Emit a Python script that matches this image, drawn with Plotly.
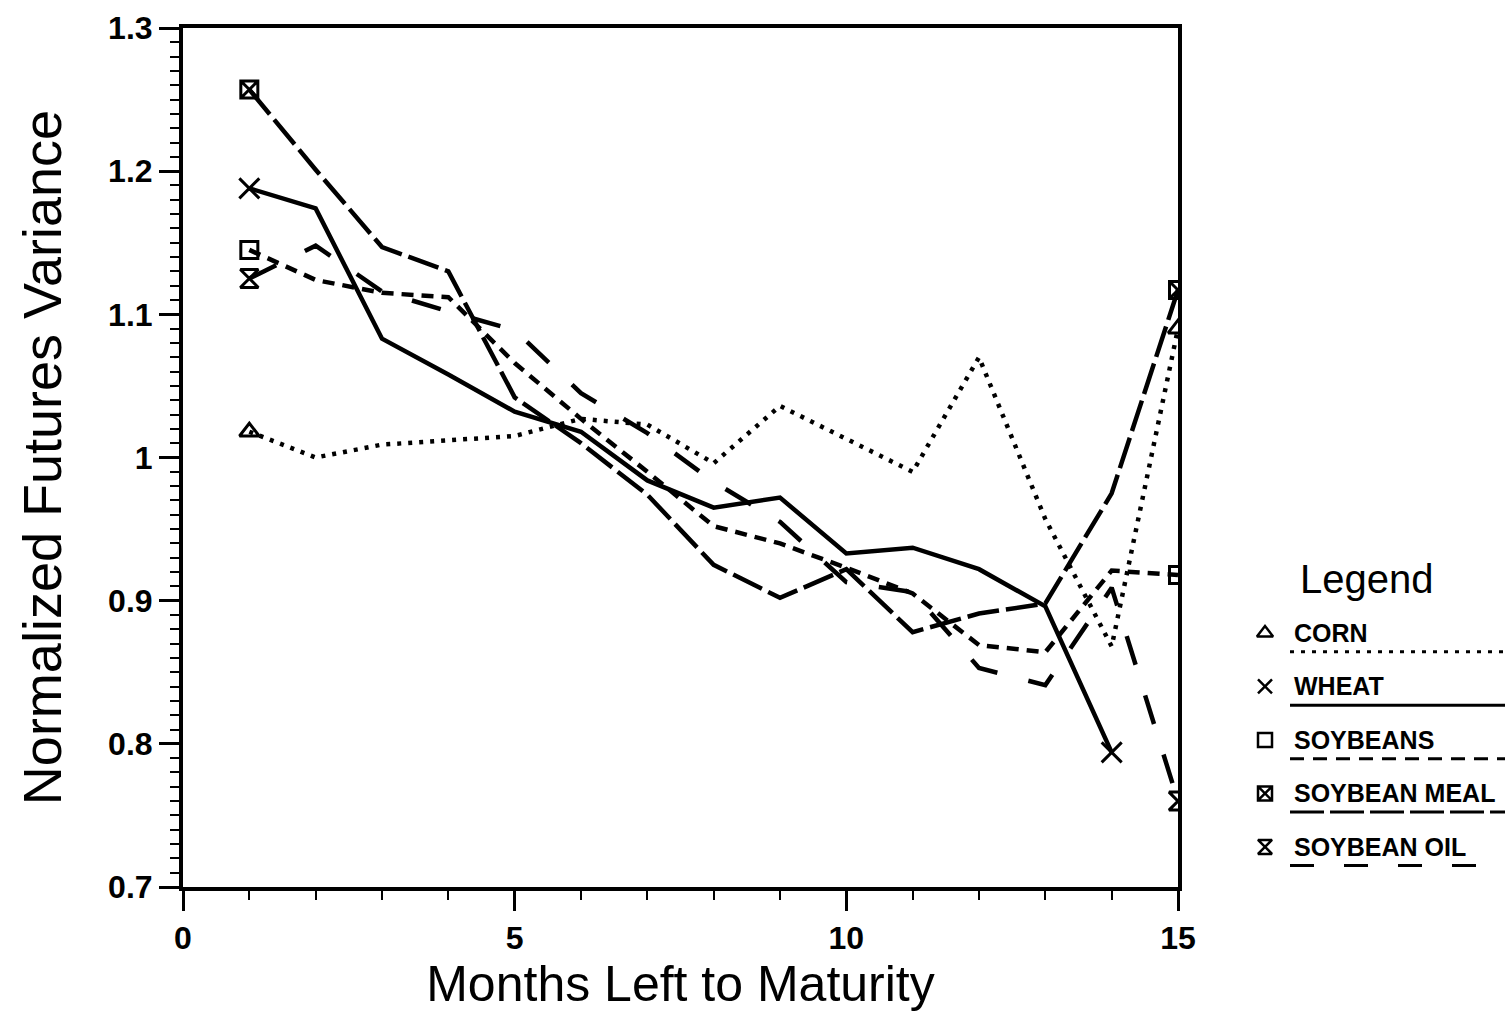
import plotly.graph_objects as go

# ---------------- data ----------------
months = list(range(1, 16))
corn = [1.018, 1.000, 1.009, 1.012, 1.015, 1.027, 1.023, 0.996, 1.036, 1.013,
        0.990, 1.070, 0.957, 0.868, 1.090]
wheat = [1.188, 1.174, 1.083, 1.058, 1.032, 1.018, 0.984, 0.965, 0.972, 0.933,
         0.937, 0.922, 0.896, 0.794]  # months 1-14
soybeans = [1.145, 1.124, 1.115, 1.112, 1.066, 1.027, 0.990, 0.952, 0.940, 0.923,
            0.905, 0.869, 0.864, 0.921, 0.918]
soybean_meal = [1.257, 1.201, 1.147, 1.130, 1.042, 1.010, 0.974, 0.925, 0.902, 0.922,
                0.878, 0.891, 0.898, 0.975, 1.117]
soybean_oil = [1.125, 1.148, 1.116, 1.102, 1.089, 1.045, 1.017, 0.983, 0.955, 0.913,
               0.906, 0.853, 0.841, 0.909, 0.760]

series_names = ["CORN", "WHEAT", "SOYBEANS", "SOYBEAN MEAL", "SOYBEAN OIL"]
series_values = [corn, wheat, soybeans, soybean_meal, soybean_oil]

y_ticks = [0.7, 0.8, 0.9, 1.0, 1.1, 1.2, 1.3]
y_tick_labels = ["0.7", "0.8", "0.9", "1", "1.1", "1.2", "1.3"]
x_ticks = [0, 5, 10, 15]
x_tick_labels = ["0", "5", "10", "15"]

# ---------------- styles ----------------
dashes = ["4px,7px", "solid", "12px,8px", "32px,7px", "30px,32px"]
legend_dashes = ["4px,7px", "solid", "14px,9px", "34px,6px", "24px,30px"]
symbols = ["triangle-up-open", "x-thin-open", "square-open", "square-x-open", "hourglass-open"]
marker_sizes = [17, 20, 17, 17, 18]

W, H = 1505, 1014
ML, MT, MB = 183, 28, 127
PLOT_RIGHT = 1178
paper_w = W - ML
main_right = (PLOT_RIGHT - ML) / paper_w
leg_left_px = 1240
leg_left = (leg_left_px - ML) / paper_w

fig = go.Figure()

for name, ys, dash, sym, ms in zip(series_names, series_values, dashes, symbols, marker_sizes):
    xs = months[:len(ys)]
    fig.add_trace(go.Scatter(
        x=xs, y=ys, mode="lines", name=name, showlegend=False,
        line=dict(color="black", width=4.5, dash=dash),
        xaxis="x", yaxis="y", hoverinfo="skip"))
    fig.add_trace(go.Scatter(
        x=[xs[0], xs[-1]], y=[ys[0], ys[-1]], mode="markers", showlegend=False,
        marker=dict(symbol=sym, size=ms, color="black",
                    line=dict(color="black", width=3)),
        xaxis="x", yaxis="y", hoverinfo="skip"))

# ---------------- hand-built legend (own axes) ----------------
rows = list(range(len(series_names)))
mark_x, text_x, line_x0, line_x1 = 1265, 1292, 1290, 1505
annotations = []
for i, name, dash, sym, ms in zip(rows, series_names, legend_dashes, symbols, marker_sizes):
    fig.add_trace(go.Scatter(
        x=[mark_x], y=[i], mode="markers", showlegend=False,
        marker=dict(symbol=sym, size=14, color="black", line=dict(color="black", width=2.5)),
        xaxis="x2", yaxis="y2", hoverinfo="skip"))
    fig.add_trace(go.Scatter(
        x=[line_x0, line_x1], y=[i + 0.35, i + 0.35], mode="lines", showlegend=False,
        line=dict(color="black", width=3, dash=dash),
        xaxis="x2", yaxis="y2", hoverinfo="skip"))
    annotations.append(dict(
        x=text_x, y=i, xref="x2", yref="y2", text=name, showarrow=False,
        xanchor="left", yanchor="middle",
        font=dict(family="Liberation Sans, Arial", size=25,
                  color="black", weight="bold")))
annotations.append(dict(
    x=1298, y=-1, xref="x2", yref="y2", text="Legend", showarrow=False,
    xanchor="left", yanchor="middle",
    font=dict(family="Liberation Sans, Arial", size=40, color="black")))

axis_font = dict(family="Liberation Sans, Arial", size=32, color="black", weight="bold")
title_font = dict(family="Liberation Sans, Arial", size=50, color="black")
ytitle_font = dict(family="Liberation Sans, Arial", size=54, color="black")

fig.update_layout(
    width=W, height=H,
    margin=dict(l=ML, r=0, t=MT, b=MB, autoexpand=False),
    paper_bgcolor="white", plot_bgcolor="white",
    showlegend=False,
    annotations=annotations,
    xaxis=dict(
        domain=[0, main_right], range=[0, 15],
        tickvals=x_ticks, ticktext=x_tick_labels, tickfont=axis_font,
        ticks="outside", ticklen=20, tickwidth=3, tickcolor="black",
        minor=dict(dtick=1, tick0=0, ticks="outside", ticklen=9, tickwidth=2, tickcolor="black"),
        showline=True, linewidth=4, linecolor="black", mirror=True,
        showgrid=False, zeroline=False,
        title=dict(text="Months Left to Maturity", font=title_font, standoff=6),
        automargin=False),
    yaxis=dict(
        domain=[0, 1], range=[0.7, 1.3],
        tickvals=y_ticks, ticktext=y_tick_labels, tickfont=axis_font,
        ticks="outside", ticklen=20, tickwidth=3, tickcolor="black",
        minor=dict(dtick=0.01, tick0=0.7, ticks="outside", ticklen=9, tickwidth=2, tickcolor="black"),
        showline=True, linewidth=4, linecolor="black", mirror=True,
        showgrid=False, zeroline=False,
        title=dict(text="Normalized Futures Variance", font=ytitle_font, standoff=30),
        automargin=False),
    xaxis2=dict(domain=[leg_left, 1], range=[leg_left_px, W], visible=False,
                anchor="y2", fixedrange=True),
    yaxis2=dict(domain=[0, 1], range=[4.75, -11.31], visible=False,
                anchor="x2", fixedrange=True),
)

fig.write_html("out.html")
